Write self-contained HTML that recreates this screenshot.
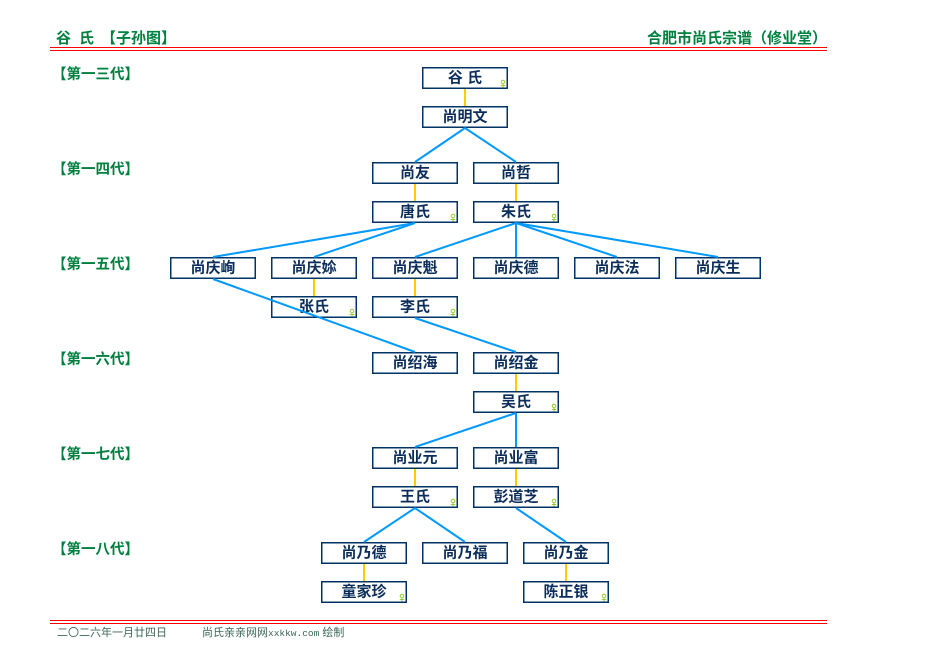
<!DOCTYPE html>
<html><head><meta charset="utf-8"><style>
html,body{margin:0;padding:0;background:#fff;width:926px;height:670px;overflow:hidden}
svg{display:block}
.h{font-family:"Liberation Sans","Noto Sans CJK SC",sans-serif;font-weight:bold;fill:#00803f}
.n{font-family:"Liberation Sans","Noto Sans CJK SC",sans-serif;font-weight:bold;font-size:15px;fill:#0b2d5a}
.f{font-family:"Liberation Sans","Noto Sans CJK SC",sans-serif;font-size:11px;fill:#3a6656}
</style></head><body>
<svg width="926" height="670" viewBox="0 0 926 670" xmlns="http://www.w3.org/2000/svg">
<!-- header -->
<text class="h" x="56" y="43" font-size="15">谷</text>
<text class="h" x="79" y="43" font-size="15">氏</text>
<text class="h" x="101" y="43" font-size="15">【子孙图】</text>
<text class="h" x="827" y="43" font-size="15" text-anchor="end">合肥市尚氏宗谱（修业堂）</text>
<rect x="50" y="47" width="777" height="1" fill="#ff0000"/>
<rect x="50" y="50" width="777" height="1" fill="#ff0000"/>

<!-- generation labels -->
<g class="h" font-size="14.5">
<text x="52" y="79">【第一三代】</text>
<text x="52" y="174">【第一四代】</text>
<text x="52" y="269">【第一五代】</text>
<text x="52" y="364">【第一六代】</text>
<text x="52" y="459">【第一七代】</text>
<text x="52" y="554">【第一八代】</text>
</g>

<!-- boxes -->
<g fill="#fff" stroke="#003366" stroke-width="1.5">
<rect x="422.75" y="67.75" width="84.5" height="20.5"/>
<rect x="422.75" y="106.75" width="84.5" height="20.5"/>
<rect x="372.75" y="162.75" width="84.5" height="20.5"/>
<rect x="473.75" y="162.75" width="84.5" height="20.5"/>
<rect x="372.75" y="201.75" width="84.5" height="20.5"/>
<rect x="473.75" y="201.75" width="84.5" height="20.5"/>
<rect x="170.75" y="257.75" width="84.5" height="20.5"/>
<rect x="271.75" y="257.75" width="84.5" height="20.5"/>
<rect x="372.75" y="257.75" width="84.5" height="20.5"/>
<rect x="473.75" y="257.75" width="84.5" height="20.5"/>
<rect x="574.75" y="257.75" width="84.5" height="20.5"/>
<rect x="675.75" y="257.75" width="84.5" height="20.5"/>
<rect x="271.75" y="296.75" width="84.5" height="20.5"/>
<rect x="372.75" y="296.75" width="84.5" height="20.5"/>
<rect x="372.75" y="352.75" width="84.5" height="20.5"/>
<rect x="473.75" y="352.75" width="84.5" height="20.5"/>
<rect x="473.75" y="391.75" width="84.5" height="20.5"/>
<rect x="372.75" y="447.75" width="84.5" height="20.5"/>
<rect x="473.75" y="447.75" width="84.5" height="20.5"/>
<rect x="372.75" y="486.75" width="84.5" height="20.5"/>
<rect x="473.75" y="486.75" width="84.5" height="20.5"/>
<rect x="321.75" y="542.75" width="84.5" height="20.5"/>
<rect x="422.75" y="542.75" width="84.5" height="20.5"/>
<rect x="523.75" y="542.75" width="84.5" height="20.5"/>
<rect x="321.75" y="581.75" width="84.5" height="20.5"/>
<rect x="523.75" y="581.75" width="84.5" height="20.5"/>
</g>

<!-- names -->
<g class="n" text-anchor="middle">
<text x="465" y="82.5">谷 氏</text>
<text x="465" y="121.5">尚明文</text>
<text x="415" y="177.5">尚友</text>
<text x="516" y="177.5">尚哲</text>
<text x="415" y="216.5">唐氏</text>
<text x="516" y="216.5">朱氏</text>
<text x="213" y="272.5">尚庆峋</text>
<text x="314" y="272.5">尚庆㛋</text>
<text x="415" y="272.5">尚庆魁</text>
<text x="516" y="272.5">尚庆德</text>
<text x="617" y="272.5">尚庆法</text>
<text x="718" y="272.5">尚庆生</text>
<text x="314" y="311.5">张氏</text>
<text x="415" y="311.5">李氏</text>
<text x="415" y="367.5">尚绍海</text>
<text x="516" y="367.5">尚绍金</text>
<text x="516" y="406.5">吴氏</text>
<text x="415" y="462.5">尚业元</text>
<text x="516" y="462.5">尚业富</text>
<text x="415" y="501.5">王氏</text>
<text x="516" y="501.5">彭道芝</text>
<text x="364" y="557.5">尚乃德</text>
<text x="465" y="557.5">尚乃福</text>
<text x="566" y="557.5">尚乃金</text>
<text x="364" y="596.5">童家珍</text>
<text x="566" y="596.5">陈正银</text>
</g>

<!-- spouse connectors -->
<g stroke="#ffcc00" stroke-width="2">
<line x1="465" y1="89" x2="465" y2="106"/>
<line x1="415" y1="184" x2="415" y2="201"/>
<line x1="516" y1="184" x2="516" y2="201"/>
<line x1="314" y1="279" x2="314" y2="296"/>
<line x1="415" y1="279" x2="415" y2="296"/>
<line x1="516" y1="374" x2="516" y2="391"/>
<line x1="415" y1="469" x2="415" y2="486"/>
<line x1="516" y1="469" x2="516" y2="486"/>
<line x1="364" y1="564" x2="364" y2="581"/>
<line x1="566" y1="564" x2="566" y2="581"/>
</g>

<!-- child connectors -->
<g stroke="#0099ff" stroke-width="2" fill="none">
<line x1="465" y1="128" x2="415" y2="162"/>
<line x1="465" y1="128" x2="516" y2="162"/>
<line x1="415" y1="223" x2="213" y2="257"/>
<line x1="415" y1="223" x2="314" y2="257"/>
<line x1="516" y1="223" x2="415" y2="257"/>
<line x1="516" y1="223" x2="516" y2="257"/>
<line x1="516" y1="223" x2="617" y2="257"/>
<line x1="516" y1="223" x2="718" y2="257"/>
<line x1="213" y1="279" x2="415" y2="352"/>
<line x1="415" y1="318" x2="516" y2="352"/>
<line x1="516" y1="413" x2="415" y2="447"/>
<line x1="516" y1="413" x2="516" y2="447"/>
<line x1="415" y1="508" x2="364" y2="542"/>
<line x1="415" y1="508" x2="465" y2="542"/>
<line x1="516" y1="508" x2="566" y2="542"/>
</g>

<!-- female marks -->
<defs>
<g id="fm" stroke="#99cc33" stroke-width="1" fill="none">
<circle cx="0" cy="0" r="1.8"/>
<line x1="0" y1="1.8" x2="0" y2="5.5"/>
<line x1="-2.2" y1="3.5" x2="2.2" y2="3.5"/>
</g>
</defs>
<use href="#fm" x="503" y="82"/>
<use href="#fm" x="453" y="216"/>
<use href="#fm" x="554" y="216"/>
<use href="#fm" x="352" y="311"/>
<use href="#fm" x="453" y="311"/>
<use href="#fm" x="554" y="406"/>
<use href="#fm" x="453" y="501"/>
<use href="#fm" x="554" y="501"/>
<use href="#fm" x="402" y="596"/>
<use href="#fm" x="604" y="596"/>

<!-- footer -->
<rect x="50" y="620" width="777" height="1" fill="#ff0000"/>
<rect x="50" y="623" width="777" height="1" fill="#ff0000"/>
<text class="f" x="57" y="636">二〇二六年一月廿四日</text>
<text class="f" x="202" y="636">尚氏亲亲网网<tspan font-family="Liberation Mono, monospace" font-size="9.5">xxkkw.com</tspan> 绘制</text>
</svg>
</body></html>
